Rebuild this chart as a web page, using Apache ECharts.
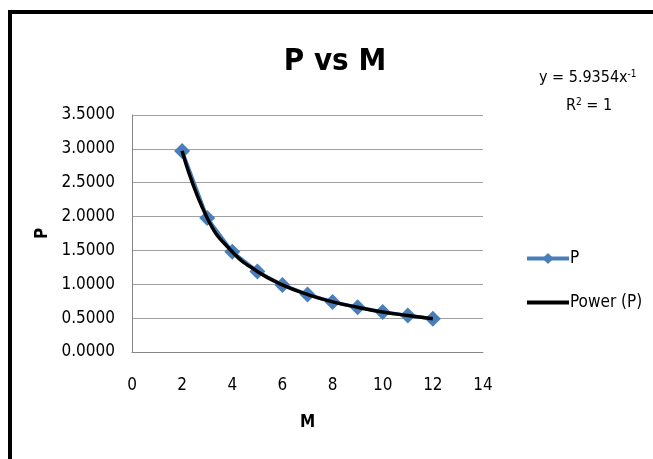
<!DOCTYPE html>
<html lang="en">
<head>
    <meta charset="UTF-8">
    <title>P vs M</title>
    <script src="https://cdn.jsdelivr.net/npm/echarts@6/dist/echarts.min.js"></script>
    <style>
        html, body { margin: 0; padding: 0; background: #fff; }
        #main { width: 653px; height: 459px; }
    </style>
</head>
<body>
<div id="main"></div>
<script>
    const font = '"Liberation Sans Narrow", "DejaVu Sans Condensed", sans-serif';
    const mValues = [2, 3, 4, 5, 6, 7, 8, 9, 10, 11, 12];
    const pValues = [2.97, 1.98, 1.48, 1.19, 0.99, 0.85, 0.74, 0.66, 0.59, 0.54, 0.49];
    const trendLabel = 'y = 5.9354x';
    const trendExp = '-1';

    const pts = mValues.map((m, i) => [m, pValues[i]]);
    const chart = echarts.init(document.getElementById('main'));

    chart.setOption({
        animation: false,
        backgroundColor: '#fff',
        title: {
            text: 'P vs M',
            left: 330, top: 41, textAlign: 'center',
            textStyle: { fontFamily: font, fontSize: 31, fontWeight: 'bold', color: '#000' }
        },
        grid: { left: 132, right: 170, top: 115, bottom: 107 },
        xAxis: {
            type: 'value', min: 0, max: 14, interval: 2,
            name: 'M', nameLocation: 'middle', nameGap: 62,
            nameTextStyle: { fontFamily: font, fontSize: 17, fontWeight: 'bold', color: '#000' },
            axisLine: { lineStyle: { color: '#868686' } },
            axisTick: { show: false },
            axisLabel: { fontFamily: font, fontSize: 17, color: '#000', margin: 25 },
            splitLine: { show: false }
        },
        yAxis: {
            type: 'value', min: 0, max: 3.5, interval: 0.5,
            name: 'P', nameLocation: 'middle', nameGap: 75, nameRotate: 90,
            nameTextStyle: { fontFamily: font, fontSize: 17, fontWeight: 'bold', color: '#000' },
            axisLine: { show: true, lineStyle: { color: '#868686' } },
            axisTick: { show: false },
            axisLabel: { fontFamily: font, fontSize: 17, color: '#000', margin: 17,
                formatter: v => v.toFixed(4) },
            splitLine: { lineStyle: { color: '#a0a0a0' } }
        },
        legend: {
            orient: 'vertical', left: 520, top: 245, itemGap: 27,
            itemWidth: 42, itemHeight: 14,
            textStyle: { fontFamily: font, fontSize: 17, color: '#000', padding: [0, 0, 0, -4] },
            data: [
                { name: 'P', lineStyle: { width: 4 } },
                { name: 'Power (P)', itemStyle: { opacity: 0 }, lineStyle: { width: 4 } }
            ]
        },
        graphic: [
            { type: 'rect', shape: { x: 8, y: 10, width: 4, height: 460 }, style: { fill: '#000' } },
            { type: 'rect', shape: { x: 8, y: 10, width: 660, height: 4 }, style: { fill: '#000' } },
            {
                type: 'text', left: 539, top: 69,
                style: {
                    text: '{a|' + trendLabel + '}{s|' + trendExp + '}',
                    rich: {
                        a: { fontFamily: font, fontSize: 16, fill: '#000' },
                        s: { fontFamily: font, fontSize: 10, fill: '#000', padding: [0, 0, 8, 0] }
                    }
                }
            },
            {
                type: 'text', left: 566, top: 97,
                style: {
                    text: '{a|R}{s|2}{a| = 1}',
                    rich: {
                        a: { fontFamily: font, fontSize: 16, fill: '#000' },
                        s: { fontFamily: font, fontSize: 10, fill: '#000', padding: [0, 0, 8, 0] }
                    }
                }
            }
        ],
        series: [
            {
                name: 'P', type: 'line', data: pts,
                symbol: 'diamond', symbolSize: 16,
                itemStyle: { color: '#4A7EBB' },
                lineStyle: { color: '#4A7EBB', width: 3.5 },
                z: 2
            },
            {
                name: 'Power (P)', type: 'line', data: pts,
                smooth: true, showSymbol: false, symbol: 'none',
                itemStyle: { color: '#000' },
                lineStyle: { color: '#000', width: 3.5 },
                z: 3
            }
        ]
    });

    window.onresize = chart.resize;
</script>
</body>
</html>
